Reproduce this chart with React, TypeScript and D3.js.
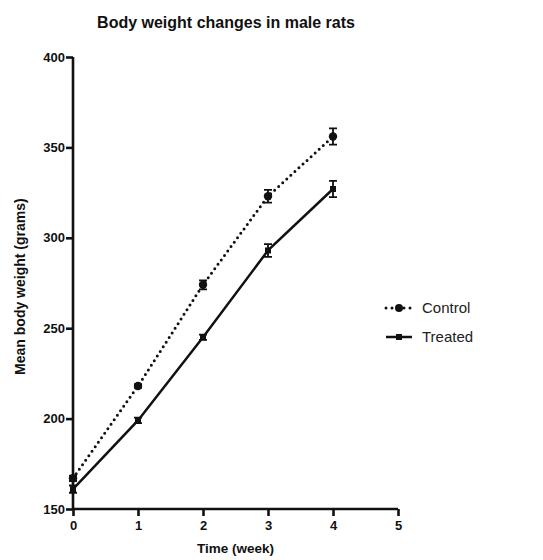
import React, { useRef, useEffect } from "react";
import * as d3 from "d3";

const weeks = [0, 1, 2, 3, 4];
const controlMean = [167, 218, 274, 323, 356];
const controlErr = [1.5, 1, 2.5, 3.5, 4.5];
const treatedMean = [161, 199, 245, 293, 327];
const treatedErr = [2, 1.5, 1.5, 3.5, 4.5];
const xTicks = [0, 1, 2, 3, 4, 5];
const yTicks = [150, 200, 250, 300, 350, 400];

const series = [
  { name: "Control", mean: controlMean, err: controlErr, dash: "0 5.5", marker: "circle" },
  { name: "Treated", mean: treatedMean, err: treatedErr, dash: null, marker: "square" },
];

const App = () => {
  const svgRef = useRef<SVGSVGElement>(null);

  useEffect(() => {
    const svg = d3.select(svgRef.current);
    svg.selectAll("*").remove();
    const font = "'Liberation Sans', Arial, sans-serif";
    svg.style("font-family", font);

    const x = d3.scaleLinear().domain([0, 5]).range([73, 398]);
    const y = d3.scaleLinear().domain([150, 400]).range([509, 57]);

    // title
    svg
      .append("text")
      .attr("x", 226)
      .attr("y", 28)
      .attr("text-anchor", "middle")
      .attr("font-size", 16)
      .attr("font-weight", "bold")
      .attr("fill", "#111")
      .text("Body weight changes in male rats");

    // axes
    const xAxis = svg
      .append("g")
      .attr("transform", `translate(0,${y(150)})`)
      .call(d3.axisBottom(x).tickValues(xTicks).tickSize(7).tickFormat(d3.format("d")));
    const yAxis = svg
      .append("g")
      .attr("transform", `translate(${x(0)},0)`)
      .call(d3.axisLeft(y).tickValues(yTicks).tickSize(7).tickFormat(d3.format("d")));

    [xAxis, yAxis].forEach((g) => {
      g.select(".domain").attr("stroke", "#111").attr("stroke-width", 2.6);
      g.selectAll(".tick line").attr("stroke", "#111").attr("stroke-width", 2.6);
      g.selectAll(".tick text")
        .attr("fill", "#111")
        .attr("font-size", 13)
        .attr("font-weight", "bold")
        .attr("font-family", font);
    });
    xAxis.select(".domain").attr("d", `M${x(0)},0H${x(5)}`);
    yAxis.select(".domain").attr("d", `M0,${y(150)}V${y(400)}`);
    xAxis.selectAll(".tick text").attr("dy", "0.85em");
    yAxis.selectAll(".tick text").attr("x", -8);

    // axis labels
    svg
      .append("text")
      .attr("x", x(2.5))
      .attr("y", 553)
      .attr("text-anchor", "middle")
      .attr("font-size", 13.5)
      .attr("font-weight", "bold")
      .attr("fill", "#111")
      .text("Time (week)");
    svg
      .append("text")
      .attr("transform", `translate(25,${y(273)}) rotate(-90)`)
      .attr("text-anchor", "middle")
      .attr("font-size", 14)
      .attr("font-weight", "bold")
      .attr("fill", "#111")
      .text("Mean body weight (grams)");

    const line = d3
      .line<number>()
      .x((d, i) => x(weeks[i]))
      .y((d) => y(d));

    series.forEach((s) => {
      const g = svg.append("g");
      g.append("path")
        .datum(s.mean)
        .attr("d", line)
        .attr("fill", "none")
        .attr("stroke", "#111")
        .attr("stroke-width", s.dash ? 3 : 2.5)
        .attr("stroke-linecap", s.dash ? "round" : "butt")
        .attr("stroke-dasharray", s.dash);

      // error bars
      s.mean.forEach((m, i) => {
        const cx = x(weeks[i]);
        const top = y(m + s.err[i]);
        const bot = y(m - s.err[i]);
        g.append("path")
          .attr("d", `M${cx},${top}V${bot}M${cx - 4},${top}H${cx + 4}M${cx - 4},${bot}H${cx + 4}`)
          .attr("stroke", "#111")
          .attr("stroke-width", 1.8)
          .attr("fill", "none");
      });

      // markers
      s.mean.forEach((m, i) => {
        const cx = x(weeks[i]);
        if (s.marker === "circle") {
          g.append("circle").attr("cx", cx).attr("cy", y(m)).attr("r", 4.2).attr("fill", "#111");
        } else {
          g.append("rect")
            .attr("x", cx - 3)
            .attr("y", y(m) - 3)
            .attr("width", 6)
            .attr("height", 6)
            .attr("fill", "#111");
        }
      });
    });

    // legend
    series.forEach((s, i) => {
      const ly = 308 + i * 29;
      const g = svg.append("g");
      g.append("line")
        .attr("x1", 386)
        .attr("x2", 412)
        .attr("y1", ly)
        .attr("y2", ly)
        .attr("stroke", "#111")
        .attr("stroke-width", s.dash ? 3 : 2.5)
        .attr("stroke-linecap", s.dash ? "round" : "butt")
        .attr("stroke-dasharray", s.dash ? "0 6" : null);
      if (s.marker === "circle") {
        g.append("circle").attr("cx", 399).attr("cy", ly).attr("r", 4).attr("fill", "#111");
      } else {
        g.append("rect").attr("x", 396).attr("y", ly - 3).attr("width", 6).attr("height", 6).attr("fill", "#111");
      }
      g.append("text")
        .attr("x", 422)
        .attr("y", ly + 5)
        .attr("font-size", 15)
        .attr("fill", "#222")
        .text(s.name);
    });
  }, []);

  return <svg ref={svgRef} width={543} height={560} style={{ position: "absolute", left: 0, top: 0 }} />;
};

export default App;
